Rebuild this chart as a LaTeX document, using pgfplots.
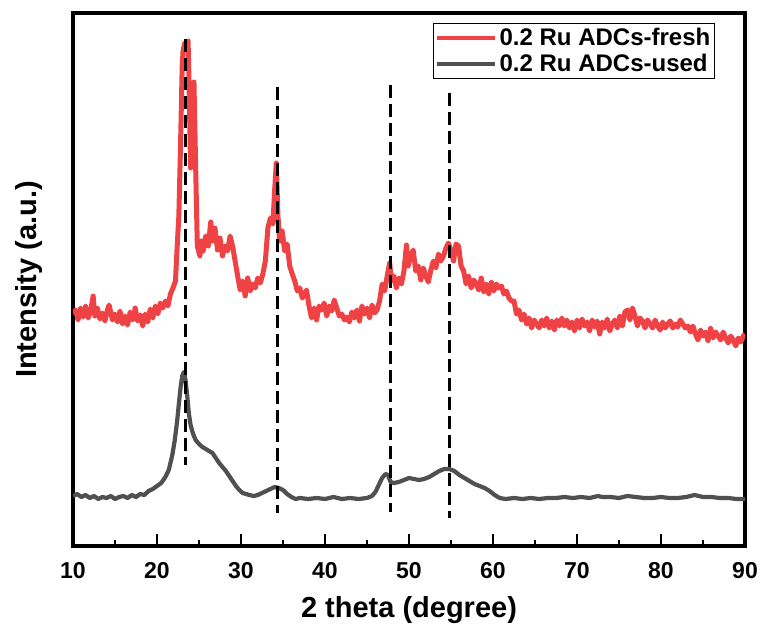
\documentclass[border=0pt]{standalone}
\usepackage{fontspec}
\setmainfont{Liberation Sans}
\usepackage{pgfplots}
\pgfplotsset{compat=1.18}
\definecolor{freshred}{RGB}{239,66,68}
\definecolor{usedgray}{RGB}{80,80,80}

\begin{document}
\begin{tikzpicture}
\begin{axis}[
    scale only axis,
    width=672pt, height=533pt,
    xmin=10, xmax=90, ymin=0, ymax=533,
    axis line style={line width=3.2pt},
    xtick={10,20,...,90},
    minor x tick num=1,
    xtick pos=bottom,
    ytick=\empty,
    tick align=inside,
    major tick length=12pt,
    minor tick length=6pt,
    every tick/.style={black, line width=2.4pt},
    /pgf/number format/assume math mode=true,
    tick label style={font=\bfseries\fontsize{23}{23}\selectfont},
    xticklabel style={yshift=-13pt},
    xlabel={\bfseries 2 theta (degree)},
    ylabel={\bfseries Intensity (a.u.)},
    label style={font=\fontsize{29}{29}\selectfont},
    xlabel style={yshift=-11pt},
    ylabel style={yshift=27pt},
    legend style={at={(0.955,0.981)}, anchor=north east, draw=black, line width=0.8pt,
        font=\bfseries\fontsize{24}{24}\selectfont, inner xsep=2pt, inner ysep=3pt,
        row sep=3pt},
    legend cell align=left,
    legend image code/.code={\draw[#1, line width=4.5pt] (0pt,0pt) -- (58pt,0pt);},
]
% fresh sample
\addplot[freshred, line width=5pt, line join=round] coordinates {
(10.0,232)(10.3,236)(10.6,226)(10.9,238)(11.2,229)(11.5,240)(11.8,228)(12.1,235)(12.4,250)(12.6,230)
(12.9,238)(13.2,227)(13.5,233)(13.8,225)(14.1,236)(14.3,241)(14.7,226)(15.0,232)(15.3,224)(15.6,235)
(15.9,222)(16.2,230)(16.5,221)(16.8,234)(17.1,226)(17.4,238)(17.7,225)(18.0,231)(18.3,220)(18.6,232)
(18.9,224)(19.2,237)(19.5,228)(19.8,240)(20.1,232)(20.4,243)(20.7,238)(21.0,245)(21.3,240)(21.6,252)
(21.9,258)(22.2,265)(22.4,299)(22.6,330)(22.8,400)(23.0,480)(23.1,495)(23.3,503)(23.5,498)(23.7,505)
(23.8,470)(24.0,378)(24.2,420)(24.4,464)(24.6,380)(24.8,300)(25.1,290)(25.3,305)(25.5,295)(25.8,310)
(26.1,300)(26.4,324)(26.6,305)(26.9,318)(27.2,296)(27.5,308)(27.8,290)(28.1,300)(28.4,295)(28.7,310)
(29.0,300)(29.3,285)(29.6,270)(29.9,256)(30.2,265)(30.5,250)(30.8,268)(31.1,255)(31.4,262)(31.7,258)
(32.0,268)(32.3,263)(32.6,272)(32.9,285)(33.2,318)(33.5,328)(33.8,322)(34.0,355)(34.2,383)(34.4,330)
(34.6,305)(34.9,315)(35.2,295)(35.5,302)(35.8,280)(36.1,272)(36.4,265)(36.7,255)(37.0,258)(37.3,248)
(37.6,252)(37.8,256)(38.1,240)(38.4,228)(38.7,238)(39.0,226)(39.3,240)(39.6,236)(39.9,243)(40.2,230)
(40.5,240)(40.8,235)(41.1,246)(41.4,238)(41.7,230)(42.0,232)(42.3,226)(42.6,229)(42.9,224)(43.2,234)
(43.5,228)(43.8,236)(44.1,225)(44.4,240)(44.7,232)(45.0,238)(45.3,228)(45.6,241)(45.9,233)(46.2,236)
(46.5,245)(46.8,262)(47.1,255)(47.4,270)(47.7,283)(47.9,265)(48.2,270)(48.5,258)(48.8,268)(49.1,262)
(49.4,275)(49.7,301)(49.9,280)(50.2,290)(50.5,296)(50.8,275)(51.1,280)(51.4,266)(51.7,278)(52.0,270)
(52.3,264)(52.6,276)(52.9,285)(53.2,278)(53.5,292)(53.8,285)(54.1,290)(54.4,298)(54.7,303)(55.0,295)
(55.3,285)(55.6,302)(55.9,300)(56.2,280)(56.5,275)(56.8,262)(57.1,270)(57.4,258)(57.7,266)(58.0,262)
(58.3,256)(58.6,268)(58.9,254)(59.2,262)(59.5,252)(59.8,264)(60.1,255)(60.4,262)(60.7,258)(61.0,260)
(61.3,252)(61.6,255)(61.9,248)(62.2,245)(62.5,245)(62.8,232)(63.1,236)(63.4,226)(63.7,232)(64.0,222)
(64.3,228)(64.6,218)(64.9,226)(65.2,222)(65.5,218)(65.8,226)(66.1,220)(66.4,228)(66.7,218)(67.0,225)
(67.3,216)(67.6,226)(67.9,220)(68.2,228)(68.5,220)(68.8,226)(69.1,218)(69.4,224)(69.7,215)(70.0,226)
(70.3,218)(70.6,227)(70.9,220)(71.2,224)(71.5,215)(71.8,226)(72.1,219)(72.4,225)(72.7,212)(73.0,224)
(73.3,218)(73.6,227)(73.9,215)(74.2,222)(74.5,226)(74.8,218)(75.1,230)(75.4,220)(75.7,234)(76.0,236)
(76.3,226)(76.6,238)(76.9,230)(77.2,220)(77.5,228)(77.8,225)(78.1,218)(78.4,226)(78.7,222)(79.0,218)
(79.3,226)(79.6,220)(79.9,216)(80.2,224)(80.5,218)(80.8,222)(81.1,225)(81.4,218)(81.7,222)(82.0,219)
(82.3,226)(82.6,222)(82.9,218)(83.2,220)(83.5,214)(83.8,220)(84.1,212)(84.4,206)(84.7,216)(85.0,210)
(85.3,214)(85.6,205)(85.9,218)(86.2,208)(86.5,214)(86.8,210)(87.1,206)(87.4,214)(87.7,208)(88.0,203)
(88.3,210)(88.6,206)(88.9,200)(89.2,208)(89.5,204)(89.8,210)(90.0,212)
};
\addlegendentry{0.2 Ru ADCs-fresh}
% used sample
\addplot[usedgray, line width=4.2pt, line join=round] coordinates {
(10.0,50)(10.5,52)(11.0,49)(11.5,51)(12.0,48)(12.5,50)(13.0,47)(13.5,49)(14.0,48)(14.5,50)
(15.0,47)(15.5,49)(16.0,50)(16.5,48)(17.0,51)(17.5,49)(18.0,52)(18.5,51)(19.0,55)(19.5,57)
(20.0,60)(20.5,63)(21.0,69)(21.4,76)(21.8,90)(22.1,105)(22.4,125)(22.6,142)(22.8,158)(23.0,170)
(23.2,174)(23.4,166)(23.6,150)(23.8,132)(24.0,121)(24.3,112)(24.6,106)(25.0,102)(25.4,99)(25.8,97)
(26.2,95)(26.6,93)(27.0,88)(27.4,83)(27.8,79)(28.2,75)(28.6,70)(29.0,65)(29.4,60)(29.8,56)
(30.2,53)(30.6,52)(31.0,51)(31.5,50)(32.0,51)(32.5,53)(33.0,55)(33.5,57)(34.0,59)(34.5,58)
(35.0,56)(35.5,52)(36.0,49)(36.5,47)(37.0,48)(38.0,47)(39.0,48)(40.0,47)(41.0,49)(42.0,47)
(43.0,48)(44.0,47)(45.0,48)(45.6,50)(46.0,54)(46.4,61)(46.8,68)(47.2,72)(47.5,71)(47.8,64)
(48.2,63)(48.8,64)(49.4,66)(50.0,68)(50.6,67)(51.2,66)(51.8,67)(52.4,69)(53.0,72)(53.6,75)
(54.2,77)(54.8,77)(55.4,75)(56.0,71)(56.6,68)(57.2,65)(57.8,62)(58.4,60)(59.0,58)(59.6,55)
(60.2,51)(60.8,48)(61.5,47)(62.5,48)(63.5,47)(64.5,48)(65.5,47)(66.5,48)(67.5,48)(68.5,49)
(69.5,48)(70.5,49)(71.5,48)(72.5,50)(73.0,49)(74.0,49)(75.0,48)(76.0,50)(77.0,49)(78.0,48)
(79.0,48)(80.0,49)(81.0,48)(82.0,48)(83.0,49)(84.0,51)(85.0,49)(86.0,49)(87.0,48)(88.0,48)
(89.0,47)(90.0,47)
};
\addlegendentry{0.2 Ru ADCs-used}
% reference lines
\addplot[black, line width=3pt, dash pattern=on 13pt off 6pt, forget plot] coordinates {(23.45,507)(23.45,81)};
\addplot[black, line width=3pt, dash pattern=on 13pt off 6pt, forget plot] coordinates {(34.29,459)(34.29,33)};
\addplot[black, line width=3pt, dash pattern=on 13pt off 6pt, forget plot] coordinates {(47.74,461)(47.74,34)};
\addplot[black, line width=3pt, dash pattern=on 13pt off 6pt, forget plot] coordinates {(54.88,453)(54.88,28)};
\end{axis}
\pgfresetboundingbox
\path ([shift={(-73pt,-84pt)}]current axis.south west) rectangle ([shift={(18pt,13pt)}]current axis.north east);
\end{tikzpicture}
\end{document}
